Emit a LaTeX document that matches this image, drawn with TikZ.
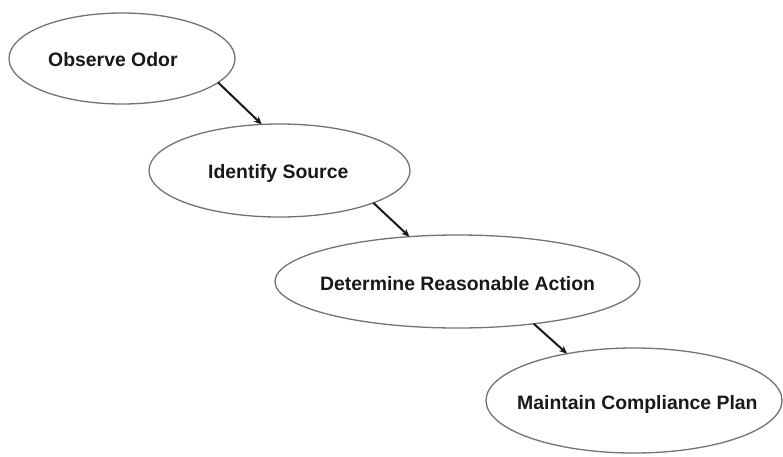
\documentclass[tikz,border=0pt]{standalone}
\usepackage{fontspec}
\setmainfont{Liberation Sans}
\usetikzlibrary{shapes.geometric,arrows.meta}
\begin{document}
\begin{tikzpicture}[x=1pt,y=-1pt,
  oval/.style={draw=black!55,line width=1.3pt,ellipse,inner sep=0pt,outer sep=0pt},
  lbl/.style={anchor=base west,inner sep=0pt,font=\fontsize{19.4}{22}\selectfont\bfseries,text=black!90},
  flow/.style={draw=black!90,line width=2pt,-{Stealth[length=8pt,width=7pt]}}]
\useasboundingbox[fill=white] (0,0) rectangle (783,456);
\node[oval,minimum width=226pt,minimum height=91pt] (a) at (122,58.5) {};
\node[oval,minimum width=261pt,minimum height=93pt] (b) at (279.5,170.5) {};
\node[oval,minimum width=365pt,minimum height=93pt] (c) at (457.5,281.5) {};
\node[oval,minimum width=296pt,minimum height=105pt] (d) at (634,400.5) {};
\node[lbl] (ta) at (48,66.5) {Observe Odor};
\node[lbl] (tb) at (208,178) {Identify Source};
\node[lbl] (tc) at (320,290) {Determine Reasonable Action};
\node[lbl] (td) at (517,409) {Maintain Compliance Plan};
\draw[flow] (a.-14.8) -- (b.111);
\draw[flow] (b.-19.6) -- (c.137.4);
\draw[flow] (c.-29.9) -- (d.145.4);
\end{tikzpicture}
\end{document}
